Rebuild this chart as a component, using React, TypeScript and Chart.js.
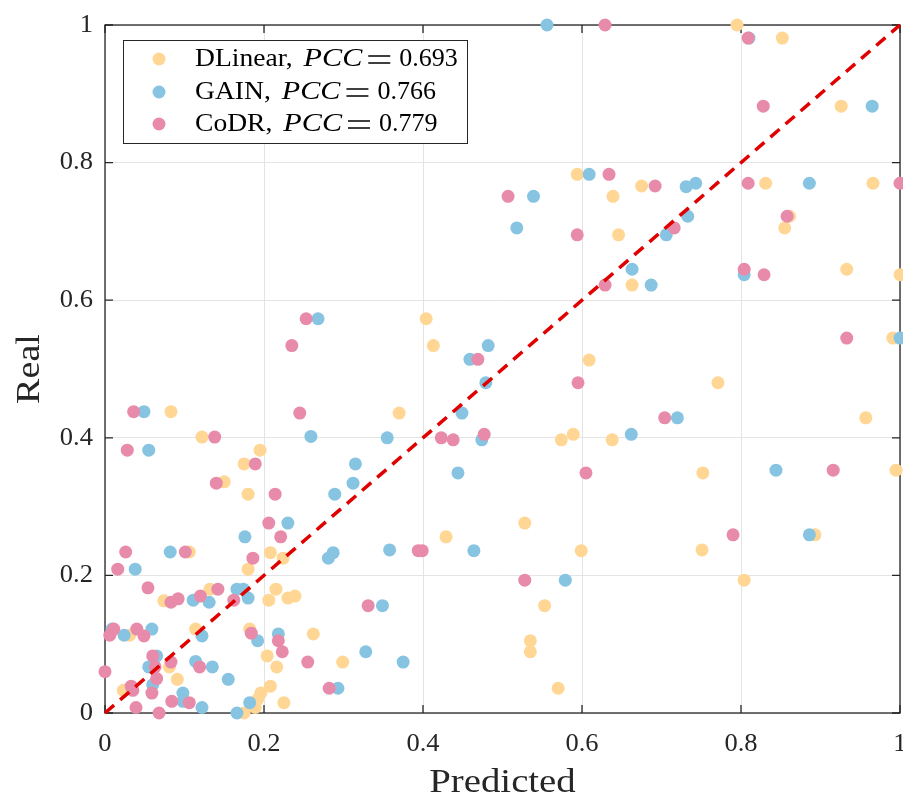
import React, { useEffect, useRef } from 'react';
import { Chart, registerables } from 'chart.js';

Chart.register(...registerables);

// ---------------- data ----------------
const seriesNames = ['DLinear', 'GAIN', 'CoDR'];
const pccValues = ['0.693', '0.766', '0.779'];
const seriesColors = ['rgb(255,214,148)', 'rgb(135,196,226)', 'rgb(232,139,170)'];

const dlinearPred = [0.795, 0.852, 0.926, 0.594, 0.675, 0.831, 0.966, 0.639, 0.646, 0.861, 0.855, 0.933, 0.663, 1.0, 0.404, 0.413, 0.991, 0.609, 0.771, 0.370, 0.083, 0.957, 0.122, 0.574, 0.589, 0.638, 0.195, 0.175, 0.752, 0.995, 0.150, 0.180, 0.528, 0.893, 0.429, 0.751, 0.599, 0.106, 0.208, 0.224, 0.180, 0.804, 0.132, 0.215, 0.074, 0.206, 0.230, 0.239, 0.553, 0.031, 0.114, 0.182, 0.262, 0.535, 0.535, 0.204, 0.299, 0.081, 0.216, 0.091, 0.208, 0.570, 0.023, 0.196, 0.192, 0.225, 0.189, 0.175];
const dlinearReal = [1.0, 0.981, 0.882, 0.783, 0.766, 0.770, 0.770, 0.751, 0.695, 0.722, 0.705, 0.645, 0.622, 0.637, 0.573, 0.534, 0.545, 0.513, 0.480, 0.436, 0.438, 0.429, 0.401, 0.397, 0.405, 0.397, 0.382, 0.362, 0.349, 0.353, 0.336, 0.318, 0.276, 0.259, 0.256, 0.237, 0.236, 0.234, 0.233, 0.225, 0.209, 0.193, 0.180, 0.180, 0.163, 0.164, 0.167, 0.170, 0.156, 0.113, 0.122, 0.122, 0.115, 0.105, 0.089, 0.083, 0.074, 0.067, 0.067, 0.049, 0.039, 0.036, 0.033, 0.029, 0.020, 0.015, 0.008, 0.0];

const gainPred = [0.556, 0.810, 0.965, 0.609, 0.731, 0.743, 0.886, 0.539, 0.733, 0.518, 0.706, 0.663, 0.687, 0.804, 0.268, 1.0, 0.482, 0.459, 0.479, 0.049, 0.449, 0.720, 0.259, 0.355, 0.474, 0.662, 0.055, 0.315, 0.444, 0.844, 0.312, 0.289, 0.230, 0.886, 0.176, 0.358, 0.464, 0.082, 0.287, 0.281, 0.038, 0.579, 0.166, 0.174, 0.111, 0.131, 0.180, 0.349, 0.009, 0.024, 0.059, 0.122, 0.218, 0.192, 0.328, 0.065, 0.375, 0.055, 0.114, 0.135, 0.155, 0.060, 0.293, 0.098, 0.098, 0.182, 0.122, 0.166];
const gainReal = [1.0, 0.981, 0.882, 0.783, 0.765, 0.770, 0.770, 0.751, 0.722, 0.705, 0.695, 0.645, 0.622, 0.637, 0.573, 0.545, 0.534, 0.514, 0.480, 0.438, 0.436, 0.429, 0.402, 0.400, 0.397, 0.405, 0.382, 0.362, 0.349, 0.353, 0.334, 0.318, 0.276, 0.259, 0.256, 0.237, 0.236, 0.234, 0.233, 0.225, 0.209, 0.193, 0.180, 0.180, 0.164, 0.161, 0.167, 0.156, 0.122, 0.113, 0.122, 0.112, 0.115, 0.105, 0.089, 0.083, 0.074, 0.067, 0.075, 0.067, 0.049, 0.041, 0.036, 0.029, 0.017, 0.015, 0.008, 0.0];

const codrPred = [0.629, 0.809, 0.828, 0.634, 0.692, 0.809, 1.0, 0.507, 0.858, 0.716, 0.594, 0.804, 0.829, 0.629, 0.253, 0.933, 0.235, 0.469, 0.595, 0.036, 0.245, 0.704, 0.138, 0.423, 0.438, 0.477, 0.028, 0.189, 0.605, 0.916, 0.140, 0.214, 0.206, 0.790, 0.221, 0.394, 0.399, 0.026, 0.101, 0.186, 0.016, 0.528, 0.054, 0.142, 0.083, 0.092, 0.120, 0.162, 0.331, 0.011, 0.006, 0.040, 0.049, 0.184, 0.218, 0.223, 0.255, 0.060, 0.063, 0.083, 0.119, 0.0, 0.065, 0.059, 0.033, 0.035, 0.039, 0.068, 0.084, 0.106, 0.282];
const codrReal = [1.0, 0.981, 0.882, 0.783, 0.766, 0.770, 0.770, 0.751, 0.722, 0.705, 0.695, 0.645, 0.637, 0.622, 0.573, 0.545, 0.534, 0.514, 0.480, 0.438, 0.436, 0.429, 0.401, 0.400, 0.397, 0.405, 0.382, 0.362, 0.349, 0.353, 0.334, 0.318, 0.276, 0.259, 0.256, 0.236, 0.236, 0.234, 0.234, 0.225, 0.209, 0.193, 0.182, 0.180, 0.161, 0.166, 0.170, 0.164, 0.156, 0.122, 0.113, 0.122, 0.112, 0.116, 0.105, 0.089, 0.074, 0.083, 0.067, 0.074, 0.067, 0.060, 0.050, 0.029, 0.039, 0.033, 0.008, 0.0, 0.017, 0.015, 0.036];

const tickValues = [0, 0.2, 0.4, 0.6, 0.8, 1];
const tickLabels = ['0', '0.2', '0.4', '0.6', '0.8', '1'];
const xTitle = 'Predicted';
const yTitle = 'Real';

// ---------------- helpers ----------------
const SERIF = '"Liberation Serif", "Times New Roman", serif';
const AXIS_COLOR = '#262626';

function toPoints(xs: number[], ys: number[]) {
  return xs.map((x, i) => ({ x, y: ys[i] }));
}

function drawScaledText(ctx: CanvasRenderingContext2D, text: string, x: number, y: number, font: string, sx: number, align: 'left' | 'center' | 'right') {
  ctx.save();
  ctx.font = font;
  const w = ctx.measureText(text).width * sx;
  let startX = x;
  if (align === 'center') startX = x - w / 2;
  if (align === 'right') startX = x - w;
  ctx.translate(startX, y);
  ctx.scale(sx, 1);
  ctx.textAlign = 'left';
  ctx.fillText(text, 0, 0);
  ctx.restore();
  return w;
}

const framePlugin = {
  id: 'frame',
  beforeDatasetsDraw(chart: any) {
    const ctx: CanvasRenderingContext2D = chart.ctx;
    const xs = chart.scales.x;
    const ys = chart.scales.y;
    const { left, right, top, bottom } = chart.chartArea;
    ctx.save();
    ctx.strokeStyle = AXIS_COLOR;
    ctx.lineWidth = 1.3;
    ctx.strokeRect(left, top, right - left, bottom - top);
    const tl = 8;
    ctx.beginPath();
    tickValues.forEach((v) => {
      const px = xs.getPixelForValue(v);
      ctx.moveTo(px, bottom);
      ctx.lineTo(px, bottom - tl);
      ctx.moveTo(px, top);
      ctx.lineTo(px, top + tl);
      const py = ys.getPixelForValue(v);
      ctx.moveTo(left, py);
      ctx.lineTo(left + tl, py);
      ctx.moveTo(right, py);
      ctx.lineTo(right - tl, py);
    });
    ctx.stroke();

    // tick labels
    ctx.fillStyle = AXIS_COLOR;
    ctx.textBaseline = 'middle';
    const tickFont = `26px ${SERIF}`;
    tickValues.forEach((v, i) => {
      const px = xs.getPixelForValue(v);
      drawScaledText(ctx, tickLabels[i], px, bottom + 31, tickFont, 1.02, 'center');
      const py = ys.getPixelForValue(v);
      drawScaledText(ctx, tickLabels[i], left - 12, py, tickFont, 1.02, 'right');
    });

    // axis titles
    const titleFont = `34px ${SERIF}`;
    drawScaledText(ctx, xTitle, (left + right) / 2, bottom + 70, titleFont, 1.14, 'center');
    ctx.save();
    ctx.translate(30, (top + bottom) / 2);
    ctx.rotate(-Math.PI / 2);
    drawScaledText(ctx, yTitle, 0, 0, titleFont, 1.12, 'center');
    ctx.restore();
    ctx.restore();
  },
};

const legendPlugin = {
  id: 'customLegend',
  afterDraw(chart: any) {
    const ctx: CanvasRenderingContext2D = chart.ctx;
    const bx = 123;
    const by = 40;
    const bw = 344;
    const bh = 103;
    ctx.save();
    ctx.fillStyle = '#ffffff';
    ctx.fillRect(bx, by, bw, bh);
    ctx.strokeStyle = AXIS_COLOR;
    ctx.lineWidth = 1;
    ctx.strokeRect(bx + 0.5, by + 0.5, bw, bh);
    const rowY = [by + 19, by + 52, by + 84];
    const font = `26px ${SERIF}`;
    const ifont = `italic 26px ${SERIF}`;
    seriesNames.forEach((name, i) => {
      const y = rowY[i];
      ctx.fillStyle = seriesColors[i];
      ctx.beginPath();
      ctx.arc(bx + 36, y, 6.5, 0, Math.PI * 2);
      ctx.fill();
      ctx.fillStyle = '#000000';
      ctx.textBaseline = 'middle';
      let x = bx + 72;
      x += drawScaledText(ctx, name + ',', x, y, font, 1.06, 'left');
      x += 11;
      x += drawScaledText(ctx, 'PCC', x, y, ifont, 1.16, 'left');
      x += 6;
      // equals sign drawn as two thin bars (math style)
      ctx.strokeStyle = '#000000';
      ctx.lineWidth = 1.3;
      ctx.beginPath();
      ctx.moveTo(x, y - 3);
      ctx.lineTo(x + 22, y - 3);
      ctx.moveTo(x, y + 4);
      ctx.lineTo(x + 22, y + 4);
      ctx.stroke();
      x += 22 + 9;
      drawScaledText(ctx, pccValues[i], x, y, font, 1.0, 'left');
    });
    ctx.restore();
  },
};

export default function App() {
  const canvasRef = useRef<HTMLCanvasElement | null>(null);

  useEffect(() => {
    const canvas = canvasRef.current;
    if (!canvas) return;
    const pointDs = (label: string, xs: number[], ys: number[], color: string, order: number) => ({
      type: 'scatter' as const,
      label,
      data: toPoints(xs, ys),
      backgroundColor: color,
      borderWidth: 0,
      pointRadius: 6.5,
      pointHoverRadius: 6.5,
      order,
      clip: false as any,
    });
    const chart = new Chart(canvas, {
      type: 'scatter',
      data: {
        datasets: [
          pointDs(seriesNames[0], dlinearPred, dlinearReal, seriesColors[0], 3),
          pointDs(seriesNames[1], gainPred, gainReal, seriesColors[1], 2),
          pointDs(seriesNames[2], codrPred, codrReal, seriesColors[2], 1),
          {
            type: 'line' as const,
            label: 'y=x',
            data: [{ x: 0, y: 0 }, { x: 1, y: 1 }],
            borderColor: 'rgb(224,0,0)',
            borderWidth: 3.5,
            borderDash: [12, 8],
            pointRadius: 0,
            fill: false,
            order: 0,
            clip: false as any,
          } as any,
        ],
      },
      options: {
        animation: false,
        responsive: false,
        events: [],
        layout: { autoPadding: false, padding: { left: 105, right: 3, top: 25, bottom: 84 } },
        plugins: { legend: { display: false }, tooltip: { enabled: false } },
        scales: {
          x: {
            type: 'linear',
            min: 0,
            max: 1,
            afterFit: (s: any) => { s.height = 0; },
            ticks: { display: false, stepSize: 0.2 },
            border: { display: false },
            grid: { color: '#e4e4e4', lineWidth: 1, drawTicks: false },
          },
          y: {
            type: 'linear',
            min: 0,
            max: 1,
            afterFit: (s: any) => { s.width = 0; },
            ticks: { display: false, stepSize: 0.2 },
            border: { display: false },
            grid: { color: '#e4e4e4', lineWidth: 1, drawTicks: false },
          },
        },
      } as any,
      plugins: [framePlugin, legendPlugin],
    });
    return () => chart.destroy();
  }, []);

  return (
    <div style={{ position: 'absolute', left: 0, top: 0, width: 903, height: 797, background: '#fff' }}>
      <canvas ref={canvasRef} width={903} height={797} style={{ width: 903, height: 797, display: 'block' }} />
    </div>
  );
}
